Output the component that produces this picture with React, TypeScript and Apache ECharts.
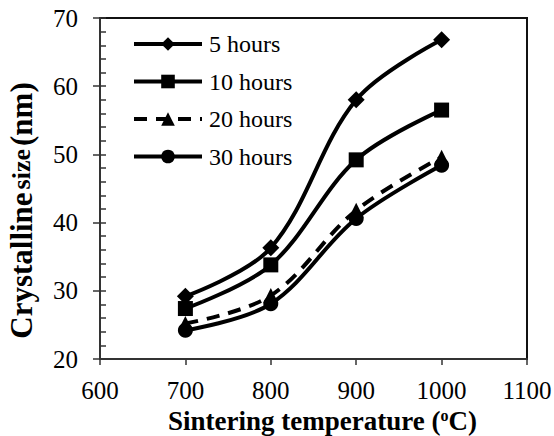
import React, { useEffect, useRef } from 'react';
import * as echarts from 'echarts';

const temperatures = [700, 800, 900, 1000];
const seriesNames = ['5 hours', '10 hours', '20 hours', '30 hours'];
const hours5 = [29.2, 36.3, 58.0, 66.8];
const hours10 = [27.4, 33.8, 49.2, 56.5];
const hours20 = [25.2, 29.3, 41.8, 49.6];
const hours30 = [24.2, 28.1, 40.6, 48.4];
const xTicks = { min: 600, max: 1100, interval: 100 };
const yTicks = { min: 20, max: 70, interval: 10, minorInterval: 2 };

const FONT = 'Liberation Serif';

export default function App() {
  const ref = useRef<HTMLDivElement>(null);
  useEffect(() => {
    const chart = echarts.init(ref.current!, null, { renderer: 'svg' });
    const axisColor = '#333';
    const mk = (name: string, values: number[], symbol: string, size: number, dashed: boolean) => ({
      name,
      type: 'line',
      data: temperatures.map((t, i) => [t, values[i]]),
      smooth: 0.35,
      symbol,
      symbolSize: size,
      showSymbol: true,
      lineStyle: { color: '#000', width: 4, type: dashed ? [13, 9] : 'solid' },
      itemStyle: { color: '#000' },
    });
    chart.setOption({
      animation: false,
      backgroundColor: '#fff',
      textStyle: { fontFamily: FONT },
      grid: {
        left: 100, right: 27, top: 18, bottom: 77,
        outerBoundsMode: 'none',
        containLabel: false,
        show: true, borderColor: '#111', borderWidth: 2, backgroundColor: 'transparent',
      },
      legend: {
        orient: 'vertical',
        left: 132,
        top: 32,
        padding: 0,
        itemWidth: 68,
        itemHeight: 17,
        itemGap: 13.5,
        data: seriesNames,
        lineStyle: { width: 4 },
        textStyle: { fontFamily: FONT, fontSize: 24, color: '#000', lineHeight: 24, padding: [0, 0, 0, 2] },
      },
      xAxis: {
        type: 'value',
        min: xTicks.min, max: xTicks.max, interval: xTicks.interval,
        axisLine: { show: true, lineStyle: { color: axisColor, width: 2 } },
        axisTick: { show: true, length: 6, lineStyle: { color: axisColor, width: 1.5 } },
        axisLabel: { fontFamily: FONT, fontSize: 25, color: '#000', margin: 19, formatter: (v: number) => String(v) },
        splitLine: { show: false },
        name: '{t|Sintering temperature (}{s|o}{t|C)}',
        nameLocation: 'middle',
        nameGap: 46,
        nameTextStyle: {
          fontFamily: FONT,
          padding: [0, 0, 0, 18],
          rich: {
            t: { fontFamily: FONT, fontSize: 27, fontWeight: 'bold', color: '#000', lineHeight: 27 },
            s: { fontFamily: FONT, fontSize: 16, fontWeight: 'bold', color: '#000', verticalAlign: 'top', lineHeight: 27, padding: [0, 0, 10, 0] },
          },
        },
      },
      yAxis: [
        {
          type: 'value',
          position: 'left',
          min: yTicks.min, max: yTicks.max, interval: yTicks.interval,
          axisLine: { show: true, lineStyle: { color: axisColor, width: 2 } },
          axisTick: { show: true, length: 7, lineStyle: { color: axisColor, width: 1.5 } },
          axisLabel: { fontFamily: FONT, fontSize: 25, color: '#000', margin: 22, formatter: (v: number) => String(v) },
          splitLine: { show: false },
          name: '{a|Crystalline} {b|size} {a|(nm)}',
          nameLocation: 'middle',
          nameRotate: 90,
          nameGap: 63,
          nameTextStyle: {
            fontFamily: FONT,
            padding: [0, 44, 0, 0],
            rich: {
              a: { fontFamily: FONT, fontSize: 31, fontWeight: 'bold', color: '#000' },
              b: { fontFamily: FONT, fontSize: 26, fontWeight: 'bold', color: '#000' },
            },
          },
        },
        {
          type: 'value',
          position: 'left',
          min: yTicks.min, max: yTicks.max, interval: yTicks.minorInterval,
          axisLine: { show: false },
          axisTick: { show: true, inside: true, length: 6, lineStyle: { color: axisColor, width: 1.5 } },
          axisLabel: { show: false },
          splitLine: { show: false },
        },
      ],
      series: [
        mk(seriesNames[0], hours5, 'diamond', 17, false),
        mk(seriesNames[1], hours10, 'rect', 15, false),
        mk(seriesNames[2], hours20, 'triangle', 15, true),
        mk(seriesNames[3], hours30, 'circle', 15, false),
      ],
    });
    return () => chart.dispose();
  }, []);
  return <div ref={ref} style={{ position: 'fixed', left: 0, top: 0, width: 554, height: 436 }} />;
}
